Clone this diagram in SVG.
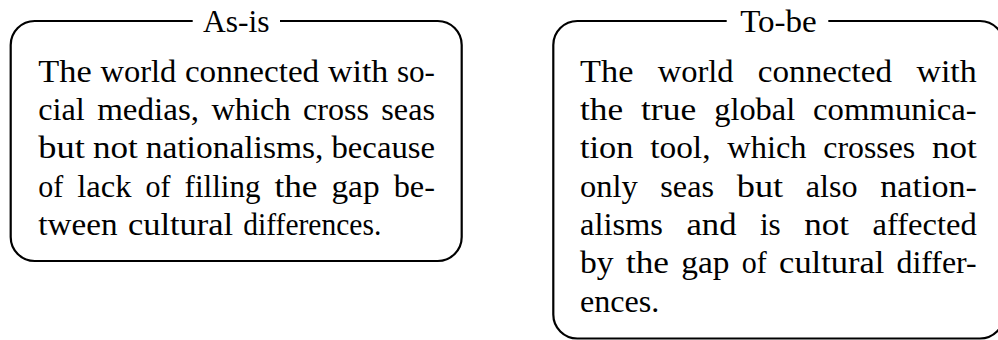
<svg xmlns="http://www.w3.org/2000/svg" width="998" height="340" viewBox="0 0 998 340">
  <style>
    .frame { fill: none; stroke: #000; stroke-width: 2.2; }
    .gap { fill: #fff; }
    .t { font-size: 32px; fill: #000; }
  </style>
  <rect width="998" height="340" fill="#fff"/>

  <!-- As-is box: justified paragraph, each word fitted to its slot -->
  <g id="as-is" font-family="Liberation Serif, serif">
    <rect class="frame" x="10.7" y="21" width="451" height="240" rx="24"/>
    <rect class="gap" x="192.7" y="10" width="87.3" height="22"/>
    <text class="t" x="203" y="31.7" textLength="66.6" lengthAdjust="spacingAndGlyphs">As-is</text>
    <text class="t" y="81.7"><tspan x="38.3" textLength="53.4" lengthAdjust="spacingAndGlyphs">The</tspan> <tspan x="100.4" textLength="75.9" lengthAdjust="spacingAndGlyphs">world</tspan> <tspan x="184.9" textLength="134.3" lengthAdjust="spacingAndGlyphs">connected</tspan> <tspan x="328" textLength="60.3" lengthAdjust="spacingAndGlyphs">with</tspan> <tspan x="396.9" textLength="38.1" lengthAdjust="spacingAndGlyphs">so-</tspan></text>
    <text class="t" y="120"><tspan x="38.3" textLength="46.5" lengthAdjust="spacingAndGlyphs">cial</tspan> <tspan x="97.2" textLength="101.8" lengthAdjust="spacingAndGlyphs">medias,</tspan> <tspan x="211.4" textLength="79.2" lengthAdjust="spacingAndGlyphs">which</tspan> <tspan x="303" textLength="65.9" lengthAdjust="spacingAndGlyphs">cross</tspan> <tspan x="381.3" textLength="53.7" lengthAdjust="spacingAndGlyphs">seas</tspan></text>
    <text class="t" y="158.3"><tspan x="38.3" textLength="46.5" lengthAdjust="spacingAndGlyphs">but</tspan> <tspan x="92.9" textLength="44.8" lengthAdjust="spacingAndGlyphs">not</tspan> <tspan x="145.7" textLength="177.7" lengthAdjust="spacingAndGlyphs">nationalisms,</tspan> <tspan x="331.5" textLength="103.5" lengthAdjust="spacingAndGlyphs">because</tspan></text>
    <text class="t" y="196.7"><tspan x="38.3" textLength="25" lengthAdjust="spacingAndGlyphs">of</tspan> <tspan x="77.3" textLength="54.3" lengthAdjust="spacingAndGlyphs">lack</tspan> <tspan x="145.6" textLength="25" lengthAdjust="spacingAndGlyphs">of</tspan> <tspan x="184.6" textLength="75.8" lengthAdjust="spacingAndGlyphs">filling</tspan> <tspan x="274.4" textLength="43.1" lengthAdjust="spacingAndGlyphs">the</tspan> <tspan x="331.4" textLength="48.2" lengthAdjust="spacingAndGlyphs">gap</tspan> <tspan x="393.7" textLength="41.3" lengthAdjust="spacingAndGlyphs">be-</tspan></text>
    <text class="t" y="235"><tspan x="38.3" textLength="79.2" lengthAdjust="spacingAndGlyphs">tween</tspan> <tspan x="127.9" textLength="105.2" lengthAdjust="spacingAndGlyphs">cultural</tspan> <tspan x="243.3" textLength="138" lengthAdjust="spacingAndGlyphs">differences.</tspan></text>
  </g>

  <!-- To-be box -->
  <g id="to-be" font-family="Liberation Serif, serif">
    <rect class="frame" x="553.3" y="21" width="450.7" height="317.5" rx="24"/>
    <rect class="gap" x="726.7" y="10" width="101.6" height="22"/>
    <text class="t" x="740.2" y="31.7" textLength="76.6" lengthAdjust="spacingAndGlyphs">To-be</text>
    <text class="t" y="81.7"><tspan x="580" textLength="53.4" lengthAdjust="spacingAndGlyphs">The</tspan> <tspan x="657.7" textLength="75.9" lengthAdjust="spacingAndGlyphs">world</tspan> <tspan x="757.8" textLength="134.3" lengthAdjust="spacingAndGlyphs">connected</tspan> <tspan x="916.4" textLength="60.3" lengthAdjust="spacingAndGlyphs">with</tspan></text>
    <text class="t" y="120"><tspan x="580" textLength="43.1" lengthAdjust="spacingAndGlyphs">the</tspan> <tspan x="641" textLength="55.2" lengthAdjust="spacingAndGlyphs">true</tspan> <tspan x="714.2" textLength="81" lengthAdjust="spacingAndGlyphs">global</tspan> <tspan x="813.1" textLength="163.6" lengthAdjust="spacingAndGlyphs">communica-</tspan></text>
    <text class="t" y="158.3"><tspan x="580" textLength="53.4" lengthAdjust="spacingAndGlyphs">tion</tspan> <tspan x="650.2" textLength="60.3" lengthAdjust="spacingAndGlyphs">tool,</tspan> <tspan x="727.3" textLength="79.2" lengthAdjust="spacingAndGlyphs">which</tspan> <tspan x="823.3" textLength="91.9" lengthAdjust="spacingAndGlyphs">crosses</tspan> <tspan x="931.9" textLength="44.8" lengthAdjust="spacingAndGlyphs">not</tspan></text>
    <text class="t" y="196.7"><tspan x="580" textLength="57.7" lengthAdjust="spacingAndGlyphs">only</tspan> <tspan x="660.3" textLength="53.7" lengthAdjust="spacingAndGlyphs">seas</tspan> <tspan x="736.7" textLength="46.5" lengthAdjust="spacingAndGlyphs">but</tspan> <tspan x="805.8" textLength="51.8" lengthAdjust="spacingAndGlyphs">also</tspan> <tspan x="880.3" textLength="96.5" lengthAdjust="spacingAndGlyphs">nation-</tspan></text>
    <text class="t" y="235"><tspan x="580" textLength="83" lengthAdjust="spacingAndGlyphs">alisms</tspan> <tspan x="686.5" textLength="50" lengthAdjust="spacingAndGlyphs">and</tspan> <tspan x="759.9" textLength="20.8" lengthAdjust="spacingAndGlyphs">is</tspan> <tspan x="804.3" textLength="44.8" lengthAdjust="spacingAndGlyphs">not</tspan> <tspan x="872.5" textLength="104.2" lengthAdjust="spacingAndGlyphs">affected</tspan></text>
    <text class="t" y="273.3"><tspan x="580" textLength="33.6" lengthAdjust="spacingAndGlyphs">by</tspan> <tspan x="625.9" textLength="43.1" lengthAdjust="spacingAndGlyphs">the</tspan> <tspan x="681.3" textLength="48.2" lengthAdjust="spacingAndGlyphs">gap</tspan> <tspan x="741.8" textLength="25" lengthAdjust="spacingAndGlyphs">of</tspan> <tspan x="779.1" textLength="105.2" lengthAdjust="spacingAndGlyphs">cultural</tspan> <tspan x="896.5" textLength="80.2" lengthAdjust="spacingAndGlyphs">differ-</tspan></text>
    <text class="t" x="580" y="311.7" textLength="79.4" lengthAdjust="spacingAndGlyphs">ences.</text>
  </g>
</svg>
